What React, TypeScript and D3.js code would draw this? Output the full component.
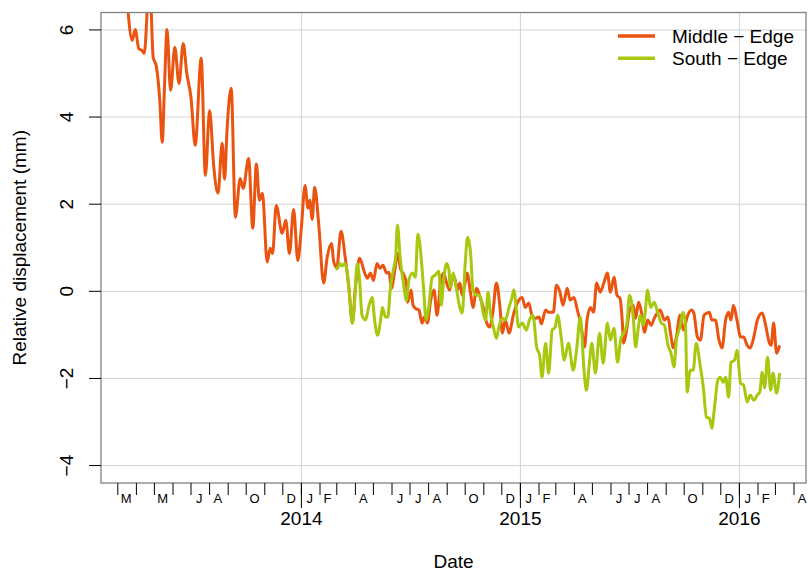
import React, { useEffect, useRef } from 'react';
import * as d3 from 'd3';

// Middle - Edge displacement (mm)
const middleEdge: [string, number][] = [
  ['2013-03-17', 6.6], ['2013-03-25', 5.76], ['2013-03-30', 6.01], ['2013-04-05', 5.57],
  ['2013-04-10', 5.53], ['2013-04-14', 5.46], ['2013-04-23', 7.2], ['2013-04-29', 5.37],
  ['2013-05-04', 5.18], ['2013-05-10', 4.38], ['2013-05-14', 3.42], ['2013-05-18', 4.77],
  ['2013-05-22', 6.01], ['2013-05-28', 4.61], ['2013-06-04', 5.6], ['2013-06-11', 4.77],
  ['2013-06-18', 5.69], ['2013-06-24', 5.0], ['2013-07-01', 4.45], ['2013-07-08', 3.35],
  ['2013-07-18', 5.35], ['2013-07-25', 2.66], ['2013-08-01', 4.15], ['2013-08-08', 2.85],
  ['2013-08-15', 2.25], ['2013-08-22', 3.4], ['2013-08-26', 2.57], ['2013-08-30', 3.69],
  ['2013-09-06', 4.66], ['2013-09-13', 1.7], ['2013-09-21', 2.59], ['2013-09-26', 2.36],
  ['2013-10-05', 3.05], ['2013-10-12', 1.45], ['2013-10-18', 2.92], ['2013-10-23', 2.09],
  ['2013-10-28', 2.25], ['2013-11-05', 0.67], ['2013-11-10', 0.99], ['2013-11-14', 0.87],
  ['2013-11-20', 1.97], ['2013-11-30', 1.33], ['2013-12-06', 1.63], ['2013-12-12', 0.87],
  ['2013-12-19', 1.88], ['2013-12-26', 0.71], ['2014-01-01', 1.47], ['2014-01-07', 2.43],
  ['2014-01-12', 1.91], ['2014-01-15', 2.09], ['2014-01-19', 1.65], ['2014-01-23', 2.39],
  ['2014-01-30', 1.52], ['2014-02-07', 0.19], ['2014-02-13', 0.78], ['2014-02-20', 1.1],
  ['2014-02-24', 0.67], ['2014-03-01', 0.55], ['2014-03-08', 1.38], ['2014-03-15', 0.78],
  ['2014-03-21', 0.09], ['2014-03-27', -0.73], ['2014-04-01', 0.09], ['2014-04-08', 0.76],
  ['2014-04-16', 0.44], ['2014-04-21', 0.3], ['2014-04-26', 0.42], ['2014-05-01', 0.25],
  ['2014-05-07', 0.64], ['2014-05-12', 0.53], ['2014-05-17', 0.6], ['2014-05-23', 0.42],
  ['2014-05-27', 0.44], ['2014-05-31', 0.07], ['2014-06-05', 0.42], ['2014-06-10', 0.87],
  ['2014-06-15', 0.53], ['2014-06-21', 0.37], ['2014-06-25', 0.19], ['2014-06-27', -0.25],
  ['2014-07-03', 0.03], ['2014-07-06', -0.32], ['2014-07-10', -0.39], ['2014-07-16', -0.43],
  ['2014-07-21', -0.73], ['2014-07-25', -0.59], ['2014-07-30', -0.73], ['2014-08-04', -0.25],
  ['2014-08-10', 0.03], ['2014-08-15', -0.55], ['2014-08-21', 0.21], ['2014-08-26', 0.42],
  ['2014-08-31', 0.19], ['2014-09-05', 0.03], ['2014-09-09', 0.25], ['2014-09-13', 0.32],
  ['2014-09-18', 0.03], ['2014-09-22', 0.19], ['2014-09-26', -0.09], ['2014-10-01', 0.21],
  ['2014-10-04', 0.42], ['2014-10-10', -0.05], ['2014-10-14', -0.37], ['2014-10-20', 0.07],
  ['2014-10-26', -0.14], ['2014-10-31', -0.37], ['2014-11-06', -0.73], ['2014-11-11', -0.82],
  ['2014-11-16', -0.5], ['2014-11-22', 0.19], ['2014-11-28', -0.37], ['2014-12-02', -0.96],
  ['2014-12-07', -0.66], ['2014-12-13', -0.96], ['2014-12-21', -0.5], ['2014-12-29', -0.21],
  ['2015-01-04', -0.14], ['2015-01-09', -0.37], ['2015-01-15', -0.27], ['2015-01-21', -0.59],
  ['2015-01-26', -0.62], ['2015-02-01', -0.59], ['2015-02-05', -0.75], ['2015-02-12', -0.43],
  ['2015-02-17', -0.48], ['2015-02-25', -0.48], ['2015-03-02', 0.14], ['2015-03-08', -0.02],
  ['2015-03-13', -0.32], ['2015-03-20', 0.07], ['2015-03-25', -0.2], ['2015-03-31', -0.14],
  ['2015-04-06', -0.43], ['2015-04-10', -0.66], ['2015-04-14', -0.96], ['2015-04-18', -1.28],
  ['2015-04-22', -0.66], ['2015-04-28', -0.37], ['2015-05-03', -0.48], ['2015-05-08', 0.19],
  ['2015-05-14', -0.02], ['2015-05-20', 0.19], ['2015-05-26', 0.42], ['2015-05-31', -0.02],
  ['2015-06-06', 0.32], ['2015-06-11', -0.09], ['2015-06-16', -0.16], ['2015-06-20', -0.73],
  ['2015-06-22', -1.19], ['2015-06-27', -0.89], ['2015-07-02', -0.43], ['2015-07-08', -0.32],
  ['2015-07-12', -0.62], ['2015-07-17', -0.25], ['2015-07-21', -0.43], ['2015-07-27', -0.94],
  ['2015-08-01', -0.66], ['2015-08-07', -0.78], ['2015-08-12', -0.62], ['2015-08-18', -0.48],
  ['2015-08-22', -0.43], ['2015-08-29', -0.66], ['2015-09-04', -0.59], ['2015-09-08', -0.94],
  ['2015-09-13', -1.3], ['2015-09-18', -1.05], ['2015-09-24', -0.55], ['2015-09-30', -0.89],
  ['2015-10-06', -0.59], ['2015-10-13', -0.43], ['2015-10-17', -0.5], ['2015-10-23', -1.05],
  ['2015-10-28', -1.12], ['2015-11-03', -0.55], ['2015-11-08', -0.5], ['2015-11-12', -0.48],
  ['2015-11-16', -0.66], ['2015-11-22', -0.66], ['2015-11-28', -1.12], ['2015-12-03', -1.3],
  ['2015-12-09', -0.66], ['2015-12-14', -0.48], ['2015-12-18', -0.66], ['2015-12-22', -0.32],
  ['2015-12-28', -0.66], ['2016-01-03', -1.05], ['2016-01-08', -1.05], ['2016-01-14', -1.24],
  ['2016-01-19', -1.3], ['2016-01-25', -1.05], ['2016-01-31', -0.66], ['2016-02-08', -0.5],
  ['2016-02-13', -0.73], ['2016-02-20', -1.19], ['2016-02-23', -1.24], ['2016-02-27', -0.73],
  ['2016-03-03', -1.42], ['2016-03-08', -1.24],
];

// South - Edge displacement (mm)
const southEdge: [string, number][] = [
  ['2014-02-27', 0.5], ['2014-03-03', 0.55], ['2014-03-06', 0.64], ['2014-03-10', 0.58],
  ['2014-03-14', 0.64], ['2014-03-18', 0.48], ['2014-03-22', -0.04], ['2014-03-27', -0.73],
  ['2014-03-30', -0.37], ['2014-04-04', 0.64], ['2014-04-08', 0.25], ['2014-04-12', -0.55],
  ['2014-04-18', -0.66], ['2014-04-23', -0.37], ['2014-04-29', -0.14], ['2014-05-03', -0.66],
  ['2014-05-08', -1.01], ['2014-05-13', -0.66], ['2014-05-16', -0.37], ['2014-05-21', -0.59],
  ['2014-05-25', -0.59], ['2014-05-29', 0.03], ['2014-06-03', 0.48], ['2014-06-07', 0.78],
  ['2014-06-10', 1.52], ['2014-06-15', 0.71], ['2014-06-20', 0.19], ['2014-06-25', -0.21],
  ['2014-06-29', 0.25], ['2014-07-05', 0.42], ['2014-07-10', 0.32], ['2014-07-14', 1.31],
  ['2014-07-18', 1.01], ['2014-07-23', 0.19], ['2014-07-28', -0.66], ['2014-08-01', -0.39],
  ['2014-08-07', 0.32], ['2014-08-12', 0.37], ['2014-08-18', 0.46], ['2014-08-22', -0.32],
  ['2014-08-26', 0.25], ['2014-08-31', 0.64], ['2014-09-04', 0.48], ['2014-09-06', 0.09],
  ['2014-09-11', 0.42], ['2014-09-16', 0.09], ['2014-09-22', -0.37], ['2014-09-26', -0.5],
  ['2014-10-01', 0.64], ['2014-10-05', 1.24], ['2014-10-10', 0.87], ['2014-10-14', 0.03],
  ['2014-10-20', -0.09], ['2014-10-25', -0.09], ['2014-10-31', -0.5], ['2014-11-04', -0.66],
  ['2014-11-08', -0.02], ['2014-11-12', -0.5], ['2014-11-17', -0.82], ['2014-11-22', -1.08],
  ['2014-11-26', -0.82], ['2014-12-02', -0.62], ['2014-12-07', -0.66], ['2014-12-13', -0.37],
  ['2014-12-18', -0.14], ['2014-12-21', 0.03], ['2014-12-25', -0.37], ['2014-12-29', -0.82],
  ['2015-01-04', -0.73], ['2015-01-11', -0.89], ['2015-01-16', -0.66], ['2015-01-22', -0.55],
  ['2015-01-28', -1.28], ['2015-02-02', -1.47], ['2015-02-06', -1.97], ['2015-02-12', -1.19],
  ['2015-02-17', -1.88], ['2015-02-23', -0.89], ['2015-02-28', -0.82], ['2015-03-04', -0.55],
  ['2015-03-10', -1.05], ['2015-03-15', -1.58], ['2015-03-22', -1.19], ['2015-03-30', -1.81],
  ['2015-04-04', -1.42], ['2015-04-11', -0.59], ['2015-04-17', -1.81], ['2015-04-21', -2.27],
  ['2015-04-26', -1.65], ['2015-04-30', -1.19], ['2015-05-06', -1.88], ['2015-05-13', -0.96],
  ['2015-05-19', -1.65], ['2015-05-26', -0.73], ['2015-05-31', -1.12], ['2015-06-06', -0.85],
  ['2015-06-12', -1.63], ['2015-06-17', -1.12], ['2015-06-22', -0.96], ['2015-06-27', -0.78],
  ['2015-07-02', -0.09], ['2015-07-08', -0.59], ['2015-07-12', -1.28], ['2015-07-16', -0.89],
  ['2015-07-20', -0.55], ['2015-07-25', -0.78], ['2015-07-28', -0.48], ['2015-08-01', 0.03],
  ['2015-08-06', -0.37], ['2015-08-12', -0.25], ['2015-08-18', -0.5], ['2015-08-24', -0.73],
  ['2015-08-29', -0.78], ['2015-09-04', -1.24], ['2015-09-09', -1.42], ['2015-09-14', -1.74],
  ['2015-09-18', -1.12], ['2015-09-24', -0.82], ['2015-09-29', -0.48], ['2015-10-03', -0.73],
  ['2015-10-06', -2.31], ['2015-10-11', -1.81], ['2015-10-16', -1.81], ['2015-10-21', -1.19],
  ['2015-10-28', -1.74], ['2015-11-02', -2.22], ['2015-11-07', -2.89], ['2015-11-12', -2.91],
  ['2015-11-16', -3.14], ['2015-11-20', -2.73], ['2015-11-26', -2.04], ['2015-11-30', -1.97],
  ['2015-12-05', -2.09], ['2015-12-09', -1.97], ['2015-12-14', -2.43], ['2015-12-18', -1.63],
  ['2015-12-24', -1.58], ['2015-12-28', -1.35], ['2016-01-03', -2.11], ['2016-01-08', -2.15],
  ['2016-01-14', -2.54], ['2016-01-19', -2.38], ['2016-01-25', -2.5], ['2016-01-31', -2.38],
  ['2016-02-04', -2.31], ['2016-02-08', -1.86], ['2016-02-12', -2.22], ['2016-02-17', -1.51],
  ['2016-02-22', -2.27], ['2016-02-26', -1.88], ['2016-03-03', -2.34], ['2016-03-08', -1.88],
];

const seriesNames = ['Middle \u2212 Edge', 'South \u2212 Edge'];
const seriesColors = ['#EB5310', '#A6C80E'];

const yTicks = [-4, -2, 0, 2, 4, 6];
const yearTicks = ['2014-01-01', '2015-01-01', '2016-01-01'];
// months that carry a letter under the axis
const monthLabels: [string, string][] = [
  ['2013-03-01', 'M'], ['2013-05-01', 'M'], ['2013-07-01', 'J'], ['2013-08-01', 'A'],
  ['2013-10-01', 'O'], ['2013-12-01', 'D'], ['2014-01-01', 'J'], ['2014-02-01', 'F'],
  ['2014-04-01', 'A'], ['2014-06-01', 'J'], ['2014-07-01', 'J'], ['2014-08-01', 'A'],
  ['2014-10-01', 'O'], ['2014-12-01', 'D'], ['2015-01-01', 'J'], ['2015-02-01', 'F'],
  ['2015-04-01', 'A'], ['2015-06-01', 'J'], ['2015-07-01', 'J'], ['2015-08-01', 'A'],
  ['2015-10-01', 'O'], ['2015-12-01', 'D'], ['2016-01-01', 'J'], ['2016-02-01', 'F'],
  ['2016-04-01', 'A'],
];

const parse = d3.timeParse('%Y-%m-%d');
const font = '"Liberation Sans", Arial, Helvetica, sans-serif';

export default function App() {
  const ref = useRef<SVGSVGElement>(null);

  useEffect(() => {
    const width = 808;
    const height = 573;
    const margin = { top: 12.5, right: 2, bottom: 90, left: 101 };

    const svg = d3.select(ref.current);
    svg.selectAll('*').remove();

    const x = d3
      .scaleTime()
      .domain([parse('2013-02-01')!, parse('2016-04-21')!])
      .range([margin.left, width - margin.right]);

    const y = d3
      .scaleLinear()
      .domain([-4.4, 6.4])
      .range([height - margin.bottom, margin.top]);

    const bottom = height - margin.bottom;

    svg.append('rect').attr('width', width).attr('height', height).attr('fill', 'white');

    svg
      .append('clipPath')
      .attr('id', 'plotclip')
      .append('rect')
      .attr('x', margin.left)
      .attr('y', margin.top)
      .attr('width', width - margin.right - margin.left)
      .attr('height', bottom - margin.top);

    // grid
    svg
      .selectAll('.hgrid')
      .data(yTicks)
      .enter()
      .append('line')
      .attr('x1', margin.left)
      .attr('x2', width - margin.right)
      .attr('y1', (d) => y(d))
      .attr('y2', (d) => y(d))
      .attr('stroke', '#d3d3d3')
      .attr('stroke-width', 1);

    svg
      .selectAll('.vgrid')
      .data(yearTicks)
      .enter()
      .append('line')
      .attr('x1', (d) => x(parse(d)!))
      .attr('x2', (d) => x(parse(d)!))
      .attr('y1', margin.top)
      .attr('y2', bottom)
      .attr('stroke', '#d3d3d3')
      .attr('stroke-width', 1);

    const line = d3
      .line<[string, number]>()
      .x((d) => x(parse(d[0])!))
      .y((d) => y(d[1]))
      .curve(d3.curveMonotoneX);

    [middleEdge, southEdge].forEach((series, i) => {
      svg
        .append('path')
        .datum(series)
        .attr('clip-path', 'url(#plotclip)')
        .attr('fill', 'none')
        .attr('stroke', seriesColors[i])
        .attr('stroke-width', 3)
        .attr('stroke-linejoin', 'round')
        .attr('d', line);
    });

    // box
    svg
      .append('rect')
      .attr('x', margin.left)
      .attr('y', margin.top)
      .attr('width', width - margin.right - margin.left)
      .attr('height', bottom - margin.top)
      .attr('fill', 'none')
      .attr('stroke', '#808080')
      .attr('stroke-width', 1.3);

    // y axis
    svg
      .selectAll('.ytick')
      .data(yTicks)
      .enter()
      .append('line')
      .attr('x1', margin.left - 12)
      .attr('x2', margin.left)
      .attr('y1', (d) => y(d))
      .attr('y2', (d) => y(d))
      .attr('stroke', 'black');

    svg
      .selectAll('.ylab')
      .data(yTicks)
      .enter()
      .append('text')
      .attr('transform', (d) => `translate(73, ${y(d)}) rotate(-90)`)
      .attr('text-anchor', 'middle')
      .style('font-family', font)
      .style('font-size', '19px')
      .text((d) => (d < 0 ? '\u2212' + Math.abs(d) : String(d)));

    // x axis: month ticks, year ticks
    const months = d3.timeMonth.range(parse('2013-03-01')!, parse('2016-04-02')!);
    svg
      .selectAll('.mtick')
      .data(months)
      .enter()
      .append('line')
      .attr('x1', (d) => x(d))
      .attr('x2', (d) => x(d))
      .attr('y1', bottom)
      .attr('y2', bottom + 12)
      .attr('stroke', 'black');

    svg
      .selectAll('.ytickx')
      .data(yearTicks)
      .enter()
      .append('line')
      .attr('x1', (d) => x(parse(d)!))
      .attr('x2', (d) => x(parse(d)!))
      .attr('y1', bottom)
      .attr('y2', bottom + 25)
      .attr('stroke', 'black');

    svg
      .selectAll('.mlab')
      .data(monthLabels)
      .enter()
      .append('text')
      .attr('x', (d) => {
        const s = parse(d[0])!;
        const e = d3.timeMonth.offset(s, 1);
        return (x(s) + x(e)) / 2 - 1;
      })
      .attr('y', bottom + 20)
      .attr('text-anchor', 'middle')
      .style('font-family', font)
      .style('font-size', '13px')
      .text((d) => d[1]);

    svg
      .selectAll('.yrlab')
      .data(yearTicks)
      .enter()
      .append('text')
      .attr('x', (d) => x(parse(d)!))
      .attr('y', bottom + 42)
      .attr('text-anchor', 'middle')
      .style('font-family', font)
      .style('font-size', '19px')
      .text((d) => d.slice(0, 4));

    // titles
    svg
      .append('text')
      .attr('x', (margin.left + width - margin.right) / 2)
      .attr('y', 568)
      .attr('text-anchor', 'middle')
      .style('font-family', font)
      .style('font-size', '19px')
      .text('Date');

    svg
      .append('text')
      .attr('transform', `translate(26, ${(margin.top + bottom) / 2}) rotate(-90)`)
      .attr('text-anchor', 'middle')
      .style('font-family', font)
      .style('font-size', '19px')
      .text('Relative displacement (mm)');

    // legend
    seriesNames.forEach((name, i) => {
      const ly = 36 + i * 22.3;
      svg
        .append('line')
        .attr('x1', 618)
        .attr('x2', 655)
        .attr('y1', ly)
        .attr('y2', ly)
        .attr('stroke', seriesColors[i])
        .attr('stroke-width', 3.5);
      svg
        .append('text')
        .attr('x', 672)
        .attr('y', ly + 7)
        .style('font-family', font)
        .style('font-size', '19px')
        .text(name);
    });
  }, []);

  return (
    <svg
      ref={ref}
      width={808}
      height={573}
      style={{ position: 'absolute', left: 0, top: 0, display: 'block' }}
    />
  );
}
